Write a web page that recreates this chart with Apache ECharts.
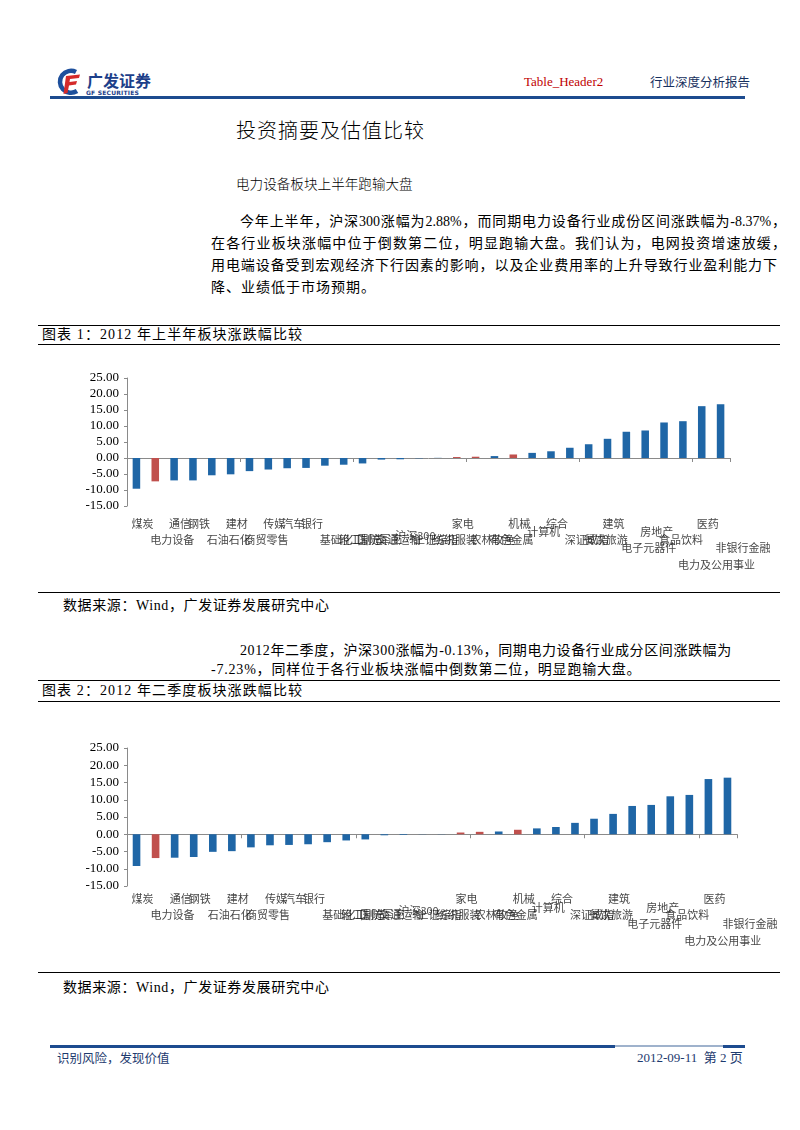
<!DOCTYPE html>
<html>
<head>
<meta charset="utf-8">
<script src="https://cdn.jsdelivr.net/npm/echarts@6/dist/echarts.min.js"></script>
<style>
  html, body { margin:0; padding:0; background:#fff; }
  #page { position:relative; width:800px; height:1130px; overflow:hidden; background:#fff;
          font-family:"Liberation Serif","Noto Sans CJK SC",serif; color:#000; }
  .abs { position:absolute; white-space:nowrap; }
  .hline { position:absolute; height:1px; background:#000; }
  .cn { font-family:"Liberation Serif","Noto Sans CJK SC",serif; }
  .just { text-align:justify; text-align-last:justify; }
</style>
</head>
<body>
<div id="page">
  <!-- header -->
  <svg class="abs" style="left:56px;top:67px" width="26" height="30" viewBox="0 0 26 30">
    <path d="M20 5 A11 11 0 1 0 21 24" fill="none" stroke="#1d4f9c" stroke-width="4.5"/>
    <path d="M10 9 L24 7.5 L23 11 L14 12 L13.5 15 L21 14 L20 17.5 L13 18.5 L11.5 26 L7.5 27 Z" fill="#d42a2a"/>
  </svg>
  <div class="abs" style="left:87px;top:70px;font:bold 16px 'Noto Sans CJK SC';color:#1d3f8a;line-height:20px">广发证券</div>
  <div class="abs" style="left:86px;top:89px;font:bold 6px 'DejaVu Sans';color:#1d3f8a;line-height:8px;letter-spacing:0.2px">GF SECURITIES</div>
  <div class="abs" style="left:524px;top:74px;font:13px 'Liberation Serif';color:#c00000;line-height:16px">Table_Header2</div>
  <div class="abs" style="left:650px;top:74px;font:12.5px 'Noto Sans CJK SC';color:#17305e;line-height:16px">行业深度分析报告</div>
  <div class="abs" style="left:50px;top:96px;width:695px;height:3px;background:#1d4b8f"></div>

  <!-- title -->
  <div class="abs" style="left:236px;top:118px;font:300 20px 'Noto Sans CJK SC';letter-spacing:1px;line-height:24px">投资摘要及估值比较</div>
  <div class="abs" style="left:236px;top:174px;font:300 13.6px 'Noto Sans CJK SC';line-height:18px">电力设备板块上半年跑输大盘</div>

  <!-- paragraph 1 -->
  <div class="abs cn just" style="left:240px;top:213px;width:546px;font-size:14px;line-height:18px">今年上半年，沪深300涨幅为2.88%，而同期电力设备行业成份区间涨跌幅为-8.37%，</div>
  <div class="abs cn just" style="left:211px;top:235px;width:575px;font-size:14px;line-height:18px">在各行业板块涨幅中位于倒数第二位，明显跑输大盘。我们认为，电网投资增速放缓，</div>
  <div class="abs cn just" style="left:211px;top:257px;width:566px;font-size:14px;line-height:18px">用电端设备受到宏观经济下行因素的影响，以及企业费用率的上升导致行业盈利能力下</div>
  <div class="abs cn" style="left:211px;top:279px;font-size:14px;letter-spacing:1px;line-height:18px">降、业绩低于市场预期。</div>

  <!-- figure 1 caption -->
  <div class="hline" style="left:38px;top:325px;width:742px"></div>
  <div class="abs cn" style="left:42px;top:326px;font-size:14px;letter-spacing:1.1px;line-height:18px">图表 1：2012 年上半年板块涨跌幅比较</div>
  <div class="hline" style="left:38px;top:344px;width:742px"></div>
  <div id="chart1" class="abs" style="left:0;top:345px;width:800px;height:246px"></div>
  <div class="hline" style="left:38px;top:592px;width:742px"></div>
  <div class="abs cn" style="left:63px;top:597px;font-size:14px;letter-spacing:0.6px;line-height:18px">数据来源：Wind，广发证券发展研究中心</div>

  <!-- paragraph 2 -->
  <div class="abs cn" style="left:240px;top:642px;font-size:14px;letter-spacing:0.6px;line-height:18px">2012年二季度，沪深300涨幅为-0.13%，同期电力设备行业成分区间涨跌幅为</div>
  <div class="abs cn" style="left:211px;top:661px;font-size:14px;letter-spacing:0.8px;line-height:18px">-7.23%，同样位于各行业板块涨幅中倒数第二位，明显跑输大盘。</div>

  <!-- figure 2 caption -->
  <div class="hline" style="left:38px;top:680px;width:742px"></div>
  <div class="abs cn" style="left:42px;top:682px;font-size:14px;letter-spacing:1.1px;line-height:18px">图表 2：2012 年二季度板块涨跌幅比较</div>
  <div class="hline" style="left:38px;top:701px;width:742px"></div>
  <div id="chart2" class="abs" style="left:0;top:702px;width:800px;height:269px"></div>
  <div class="hline" style="left:38px;top:972px;width:742px"></div>
  <div class="abs cn" style="left:63px;top:979px;font-size:14px;letter-spacing:0.6px;line-height:18px">数据来源：Wind，广发证券发展研究中心</div>

  <!-- footer -->
  <div class="abs" style="left:50px;top:1045px;width:565px;height:3px;background:#1d4b8f"></div>
  <div class="abs" style="left:615px;top:1045px;width:108px;height:2px;background:#9fb2cc"></div>
  <div class="abs" style="left:723px;top:1045px;width:22px;height:3px;background:#1d4b8f"></div>
  <div class="abs" style="left:57px;top:1050px;font:12.5px 'Noto Sans CJK SC';color:#1d3a6e;line-height:16px">识别风险，发现价值</div>
  <div class="abs cn" style="left:637px;top:1050px;font-size:13px;color:#1d3a6e;line-height:16px">2012-09-11&nbsp; 第 2 页</div>
</div>

<script>
// ---------- data ----------
const categories = ['煤炭','电力设备','通信','钢铁','石油石化','建材','商贸零售','传媒','汽车','银行',
  '基础化工','轻工制造','国防军工','交通运输','沪深300','上证综指','纺织服装','家电','农林牧渔','有色金属',
  '机械','计算机','综合','深证成指','餐饮旅游','建筑','电子元器件','房地产','食品饮料','电力及公用事业','医药','非银行金融'];

const h1Values = [-9.6,-7.3,-7.0,-7.0,-5.4,-5.1,-4.1,-3.6,-3.2,-3.1,
  -2.4,-2.1,-1.7,-0.5,-0.4,-0.1,0.05,0.3,0.4,0.6,
  1.1,1.6,2.1,3.2,4.3,6.0,8.2,8.6,11.1,11.5,16.2,16.8];

const q2Values = [-9.2,-6.9,-6.8,-6.6,-5.1,-4.9,-3.8,-3.2,-3.1,-2.9,
  -2.3,-1.8,-1.5,-0.3,-0.2,-0.05,0.05,0.5,0.7,0.8,
  1.3,1.7,2.1,3.3,4.5,5.9,8.2,8.5,11.0,11.4,16.0,16.4];

const highlighted = ['电力设备','家电','农林牧渔','机械'];

const yTicks = [-15,-10,-5,0,5,10,15,20,25];

// ---------- layout (label stagger rows as in the original) ----------
const labelRows = ['A','C','A','A','C','A','C','A','A','A',
  'C','C','C','C','B5','C','C','A','C','C',
  'A','B','A','C','C','A','D','B','C','E','A','D'];
const rowDy = {A:0, B:8.5, B5:12, C:16, D:24.5, E:41.5};

const BLUE = '#1f66a6', RED = '#c0504d', AXIS = '#8a8a8a';

function makeOption(values, g) {
  const yMin = yTicks[0], yMax = yTicks[yTicks.length-1], yStep = yTicks[1]-yTicks[0];
  return {
    animation: false,
    grid: { left: 127, right: g.right, top: g.top, height: g.height },
    xAxis: {
      type: 'category', data: categories,
      axisLine: { onZero: true, lineStyle: { color: AXIS, width: 1 } },
      axisTick: { show: true, length: 4, lineStyle: { color: AXIS } },
      axisLabel: { show: false }
    },
    yAxis: {
      type: 'value', min: yMin, max: yMax, interval: yStep,
      axisLine: { show: true, lineStyle: { color: AXIS } },
      axisTick: { show: true, length: 3, lineStyle: { color: AXIS } },
      splitLine: { show: false },
      axisLabel: { formatter: v => v.toFixed(2), fontFamily: 'Liberation Serif', fontSize: 13, color: '#000', margin: 8 }
    },
    series: [
      {
        type: 'bar', barWidth: '40%',
        data: values.map((v, i) => ({ value: v, itemStyle: { color: highlighted.includes(categories[i]) ? RED : BLUE } }))
      },
      {
        type: 'scatter', symbolSize: 0, silent: true, clip: false,
        data: categories.map((c, i) => ({
          value: [c, yMin],
          label: { offset: [-5, g.labelBase + rowDy[labelRows[i]]] }
        })),
        label: {
          show: true, position: 'inside', align: 'left', verticalAlign: 'middle',
          formatter: p => p.value[0],
          fontFamily: 'Noto Sans CJK SC', fontSize: 11, color: '#111'
        }
      }
    ]
  };
}

const c1 = echarts.init(document.getElementById('chart1'));
c1.setOption(makeOption(h1Values, { right: 70, top: 33, height: 128, labelBase: 17.5 }));
const c2 = echarts.init(document.getElementById('chart2'));
c2.setOption(makeOption(q2Values, { right: 63, top: 46, height: 138, labelBase: 13 }));
</script>
</body>
</html>
